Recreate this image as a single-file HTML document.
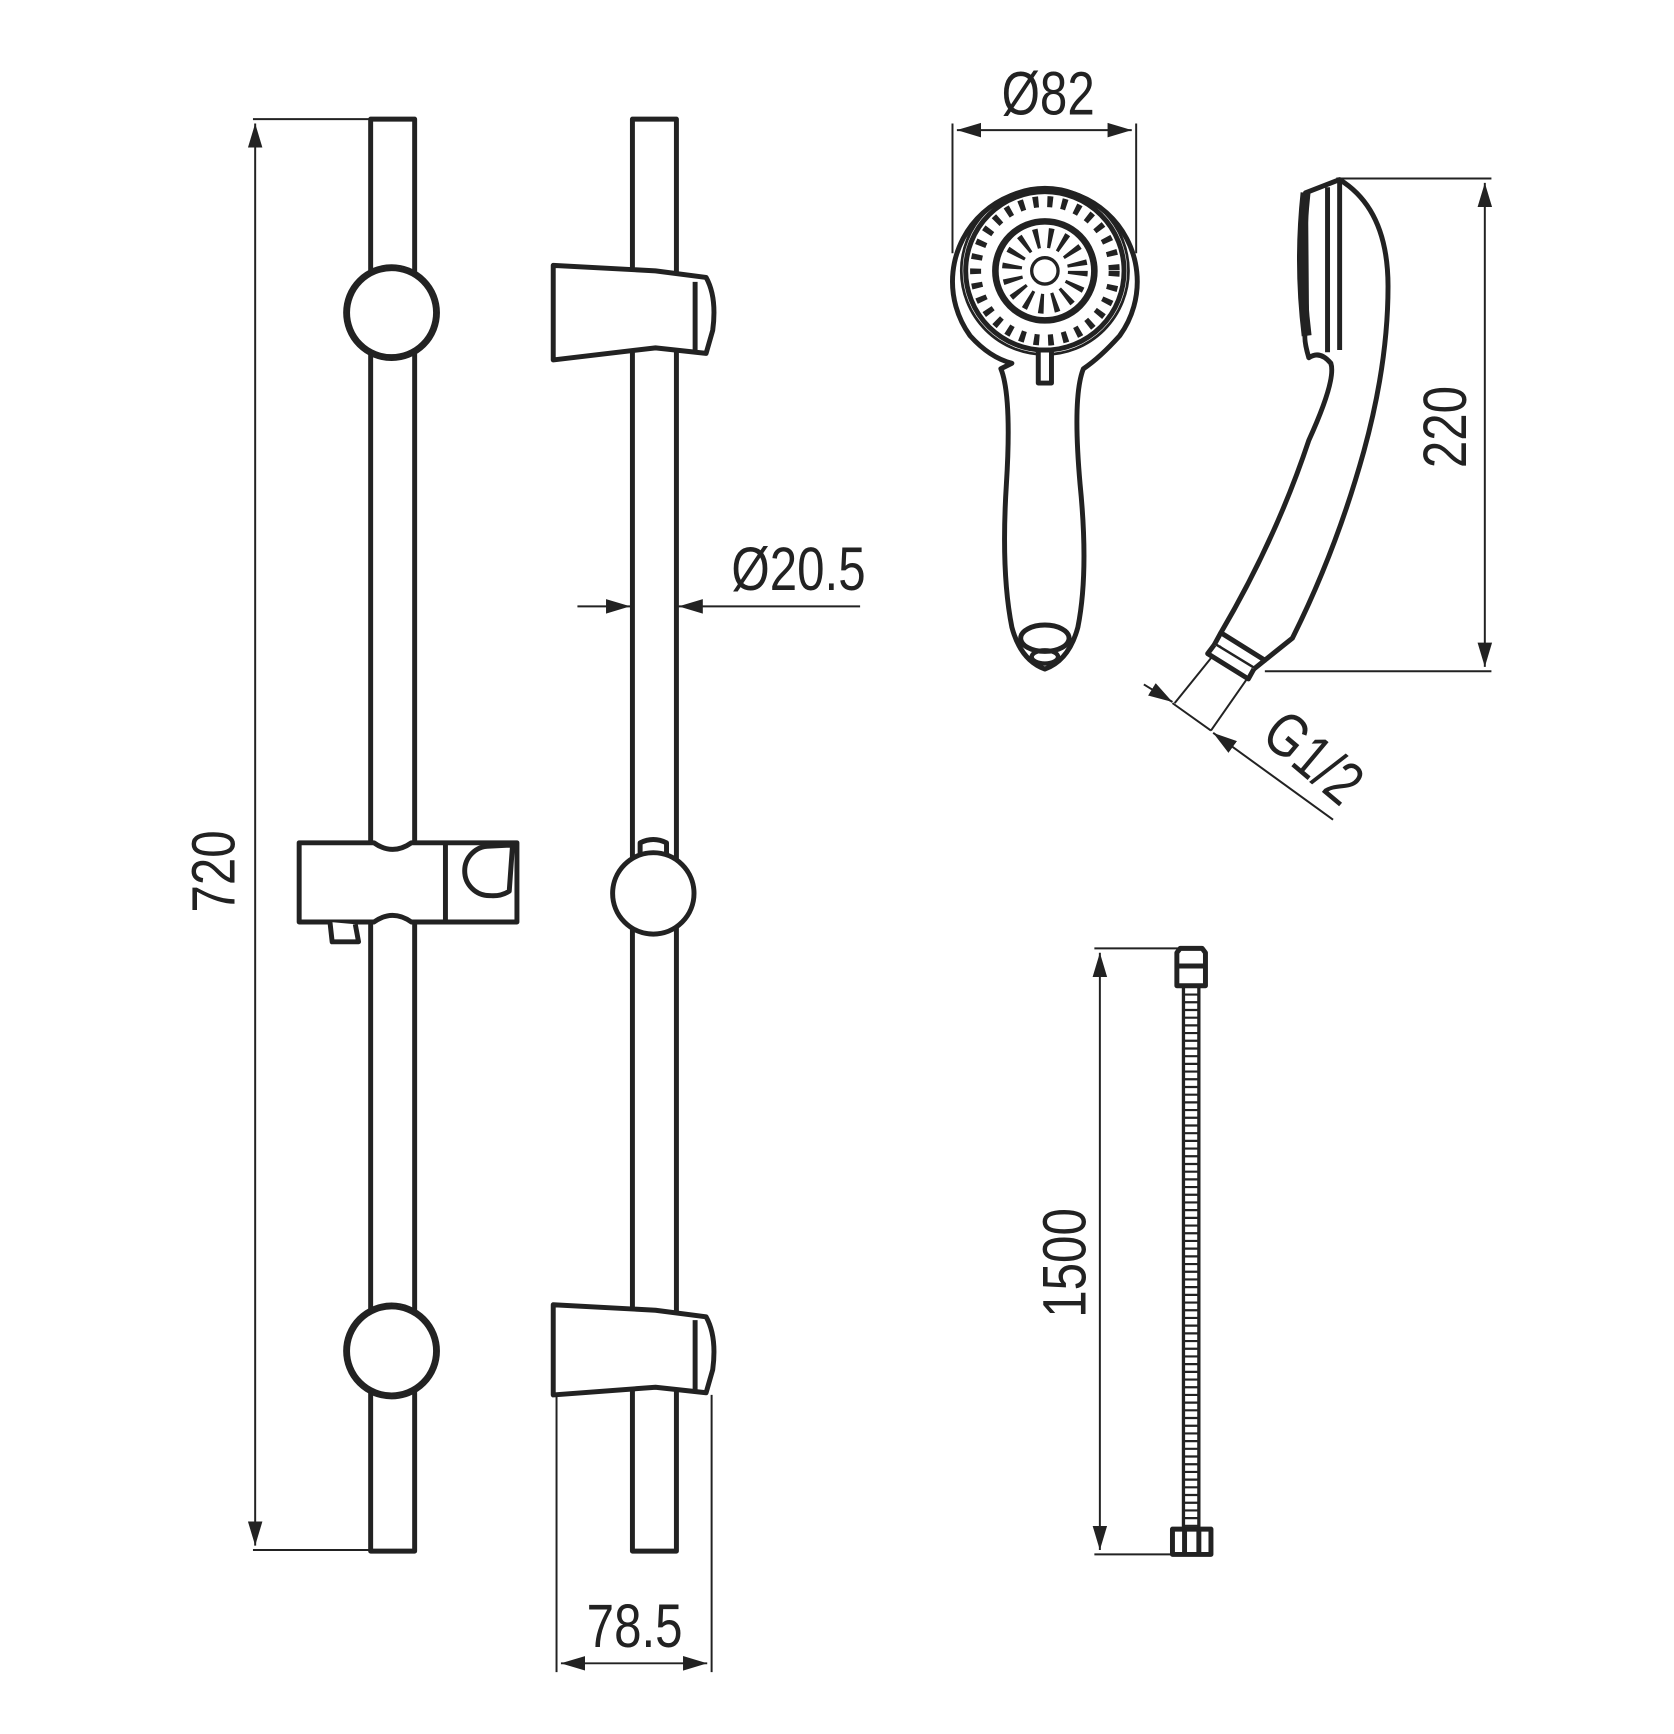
<!DOCTYPE html>
<html><head><style>html,body{margin:0;padding:0;background:#fff}svg{display:block}</style></head><body>
<svg width="1674" height="1734" viewBox="0 0 1522 1576" xmlns="http://www.w3.org/2000/svg" font-family="Liberation Sans, sans-serif">
<defs>
<marker id="b" viewBox="0 0 10 10" refX="10" refY="5" markerWidth="22" markerHeight="22" markerUnits="userSpaceOnUse" orient="auto-start-reverse"><path d="M0,2 L10,5 L0,8z" fill="#222"/></marker>
</defs>
<g fill="none" stroke="#222">
<g stroke-width="1.8">
<line x1="230" y1="108" x2="337" y2="108"/><line x1="230" y1="1409" x2="337" y2="1409"/>
<line x1="232" y1="112" x2="232" y2="1405" marker-start="url(#b)" marker-end="url(#b)"/>
<line x1="506" y1="1268" x2="506" y2="1520"/><line x1="647" y1="1268" x2="647" y2="1520"/>
<line x1="510" y1="1512" x2="643" y2="1512" marker-start="url(#b)" marker-end="url(#b)"/>
<line x1="525" y1="551" x2="573" y2="551" marker-end="url(#b)"/>
<line x1="782" y1="551" x2="617" y2="551" marker-end="url(#b)"/>
<line x1="866" y1="112" x2="866" y2="230"/><line x1="1033" y1="112" x2="1033" y2="230"/>
<line x1="870" y1="118" x2="1029" y2="118" marker-start="url(#b)" marker-end="url(#b)"/>
<line x1="1215" y1="162" x2="1356" y2="162"/><line x1="1150" y1="610" x2="1356" y2="610"/>
<line x1="1350" y1="166" x2="1350" y2="606" marker-start="url(#b)" marker-end="url(#b)"/>
<line x1="1040" y1="622" x2="1066" y2="638" marker-end="url(#b)"/>
<line x1="1066" y1="639" x2="1101" y2="664"/>
<line x1="1212" y1="745" x2="1103" y2="666" marker-end="url(#b)"/>
<line x1="1068" y1="639" x2="1110" y2="587"/><line x1="1101" y1="664" x2="1140" y2="608"/>
<line x1="995" y1="862" x2="1075" y2="862"/><line x1="995" y1="1413" x2="1075" y2="1413"/>
<line x1="1000" y1="866" x2="1000" y2="1409" marker-start="url(#b)" marker-end="url(#b)"/>
</g>
<g stroke-width="4.5" stroke-linejoin="round">
<rect x="337" y="108" width="40" height="1302" fill="#fff"/>
<circle cx="356" cy="284" r="40" fill="#fff"/>
<circle cx="356" cy="284" r="43" stroke-width="2"/>
<circle cx="356" cy="1228" r="40" fill="#fff"/>
<circle cx="356" cy="1228" r="43" stroke-width="2"/>
<path d="M272 766 H340 Q357 778 374 766 H470 V838 H374 Q357 826 340 838 H272 Z" fill="#fff"/>
<line x1="405" y1="766" x2="405" y2="838"/>
<path d="M466 768 L463 810 Q455 815 445 814 A18 18 0 0 1 445 769 Z" fill="#fff"/>
<path d="M300 838 L302 856 L326 856 L323 840" fill="#fff"/>
<rect x="575" y="108" width="40" height="1302" fill="#fff"/>
<path d="M503 241 L596 246 L642 252 Q652 270 648 300 L642 321 L596 316 L503 327 Z" fill="#fff"/>
<line x1="632" y1="256" x2="632" y2="318"/>
<path d="M503 1186 L596 1191 L642 1197 Q652 1215 648 1245 L642 1266 L596 1261 L503 1268 Z" fill="#fff"/>
<line x1="632" y1="1200" x2="632" y2="1263"/>
<path d="M582 782 L582 766 Q594 760 606 766 L606 782" fill="#fff"/>
<circle cx="594" cy="812" r="37" fill="#fff"/>
<path d="M920 330 Q900 325 882 305 A84 84 0 1 1 1018 305 Q1000 325 985 335 Q975 360 982 440 Q990 520 980 570 Q972 600 950 608 Q928 600 920 570 Q910 520 915 440 Q920 360 910 335 Z" fill="#fff"/>
<circle cx="950" cy="246" r="76" stroke-width="2.5"/>
<circle cx="950" cy="246" r="72"/>
<circle cx="950" cy="246" r="63" stroke-width="10" stroke-dasharray="5 8"/>
<circle cx="950" cy="246" r="45" stroke-width="6"/>
<circle cx="950" cy="246" r="30" stroke-width="18" stroke-dasharray="4 8"/>
<circle cx="950" cy="246" r="12" stroke-width="3"/>
<rect x="944" y="318" width="12" height="30" fill="#fff"/>
<ellipse cx="950" cy="580" rx="22" ry="12" fill="#fff"/>
<ellipse cx="950" cy="597" rx="12" ry="6" stroke-width="4"/>
<path d="M1187 175 L1218 163 Q1262 190 1262 260 Q1262 330 1240 410 Q1215 500 1175 580 L1150 600 L1110 575 Q1160 490 1190 400 Q1215 345 1210 330 Q1200 318 1190 325 Q1184 305 1188 300 Z" fill="#fff"/>
<path d="M1187 175 Q1180 240 1188 305" stroke-width="9"/>
<line x1="1207" y1="170" x2="1207" y2="320"/>
<line x1="1218" y1="165" x2="1218" y2="318"/>
<path d="M1110 575 L1104 586 L1140 608 L1150 600"/>
<path d="M1104 586 L1098 594 L1135 617 L1140 608" fill="#fff"/>
<path d="M1070 866 L1073 862 H1093 L1096 866 V896 H1070 Z" fill="#fff"/>
<line x1="1070" y1="878" x2="1096" y2="878"/>
<path d="M1066 1390 H1101 V1413 H1066 Z" fill="#fff"/>
<line x1="1077" y1="1390" x2="1077" y2="1413"/><line x1="1090" y1="1390" x2="1090" y2="1413"/>
</g>
<line x1="1076" y1="896" x2="1076" y2="1390" stroke-width="3"/>
<line x1="1090" y1="896" x2="1090" y2="1390" stroke-width="3"/>
<line x1="1083" y1="896" x2="1083" y2="1390" stroke-width="14" stroke-dasharray="2 5"/>
</g>
<g fill="#222" font-size="56" text-anchor="middle">
<text transform="translate(953 104) scale(0.8 1)">Ø82</text>
<text transform="translate(213 792) rotate(-90) scale(0.8 1)">720</text>
<text transform="translate(577 1497) scale(0.8 1)">78.5</text>
<text transform="translate(726 536) scale(0.8 1)">Ø20.5</text>
<text transform="translate(1333 388) rotate(-90) scale(0.8 1)">220</text>
<text transform="translate(987 1148) rotate(-90) scale(0.8 1)">1500</text>
<text transform="translate(1182 703) rotate(40) scale(0.8 1)">G1/2</text>
</g>
</svg>
</body></html>
